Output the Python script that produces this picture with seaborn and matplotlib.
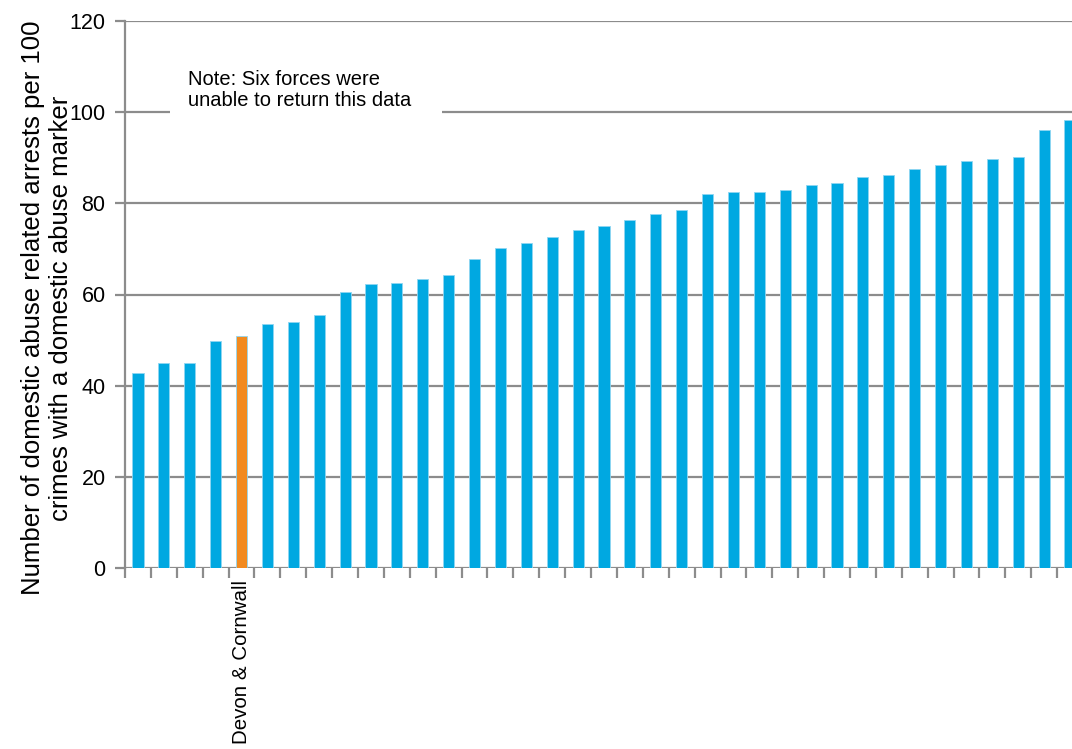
import matplotlib
matplotlib.use("Agg")
import matplotlib.pyplot as plt
import seaborn as sns
import pandas as pd
import numpy as np

# Data
force_ids = [f"F{i:02d}" for i in range(1, 38)]
labels = [""] * 37
labels[4] = "Devon & Cornwall"
values = [42.8, 45.0, 45.0, 49.7, 51.0, 53.6, 54.0, 55.4, 60.5, 62.2,
          62.6, 63.5, 64.3, 67.8, 70.3, 71.2, 72.6, 74.2, 75.1, 76.4,
          77.6, 78.5, 82.0, 82.4, 82.4, 82.9, 84.1, 84.5, 85.8, 86.3,
          87.5, 88.4, 89.3, 89.7, 90.2, 96.1, 98.3]
highlight = ["Other"] * 37
highlight[4] = "Devon & Cornwall"

y_label = "Number of domestic abuse related arrests per 100\ncrimes with a domestic abuse marker"
note = "Note: Six forces were\nunable to return this data"

df = pd.DataFrame({"force": force_ids, "value": values, "group": highlight})

sns.set_theme(style="white")
plt.rcParams['font.family'] = ['Liberation Sans', 'DejaVu Sans']

fig = plt.figure(figsize=(10.72, 7.49), dpi=100)
ax = fig.add_axes([125/1072, (749-568)/749, 958/1072, (568-21)/749])

sns.barplot(data=df, x="force", y="value", hue="group",
            palette={"Other": "#00A8E1", "Devon & Cornwall": "#F28A1F"},
            dodge=False, width=0.43, legend=False, ax=ax,
            edgecolor="#8FD6F2", linewidth=0.6, saturation=1)

ax.set_xlim(-0.5, 36.5)
ax.set_ylim(0, 120)
ax.set_yticks(np.arange(0, 121, 20))
ax.yaxis.grid(True, color="#8C8C8C", linewidth=1.6)
ax.set_axisbelow(True)
for s in ["top", "right", "bottom"]:
    ax.spines[s].set_visible(False)
ax.spines["left"].set_color("#8C8C8C")
ax.spines["left"].set_linewidth(1.6)

ax.tick_params(axis="y", which="major", left=True, length=7, width=1.6,
               color="#8C8C8C", labelsize=15.5, labelcolor="black", pad=7)
ax.set_xticks(range(37))
ax.set_xticklabels(labels, rotation=90, fontsize=14.8, va="top", ha="center")
ax.tick_params(axis="x", which="major", length=0, pad=9, labelcolor="black")
ax.set_xticks(np.arange(-0.5, 37, 1), minor=True)
ax.tick_params(axis="x", which="minor", bottom=True, length=7, width=1.6, color="#8C8C8C")

ax.set_xlabel("")
ax.set_ylabel(y_label, fontsize=18.5, color="black", va="center", linespacing=1.2)
ax.yaxis.set_label_coords(-0.0815, 0.475)

ax.text(1.95, 104.9, note, fontsize=14.5, ha="left", va="center",
        linespacing=1.15, color="black",
        bbox=dict(facecolor="white", edgecolor="none", pad=0),
        zorder=5)
# white block hiding gridline behind note
ax.fill_between([1.25, 11.75], 99.0, 101.0, color="white", zorder=4, linewidth=0)

fig.savefig("out.png", dpi=100)
